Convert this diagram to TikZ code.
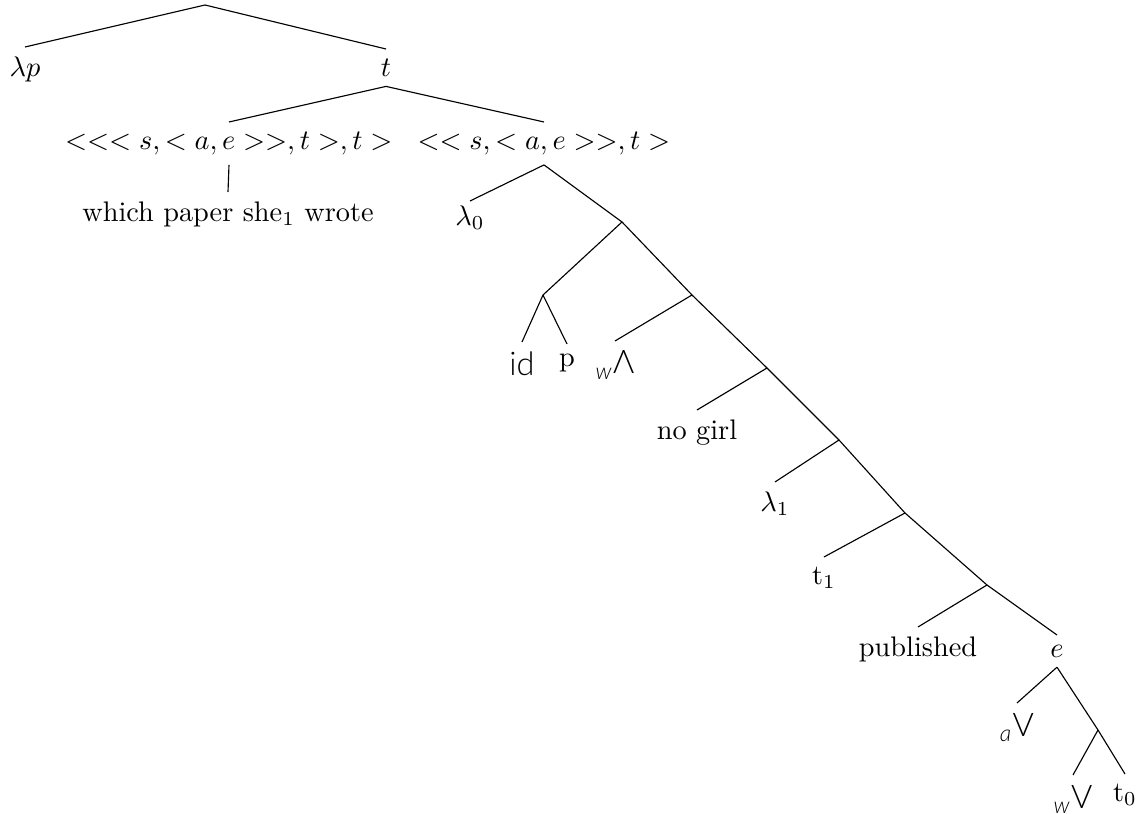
\documentclass[tikz,border=0pt]{standalone}
\usepackage{amsmath}
\usepackage{graphicx}
\usepackage{fontspec}
\newfontfamily\lightsf{Lato Light}
\newcommand{\mysub}[1]{\ensuremath{_{\text{\lightsf\itshape #1}}}}
\newcommand{\mywedge}{{\lightsf\rotatebox[origin=c]{180}{V}}}
\newcommand{\myvee}{{\lightsf V}}
\begin{document}
\begin{tikzpicture}[x=0.3533pt,y=-0.3533pt,
  lab/.style={anchor=north},
  sflab/.style={anchor=north,font=\fontsize{11.5}{14}\selectfont},
  edge/.style={draw=black,line width=0.4pt}]
\useasboundingbox (0,0) rectangle (1139,814);
% root
\coordinate (r) at (205,5);
\node[lab] (lp) at (25,47) {$\lambda p$};
\node[lab] (t) at (386,49) {$t$};
\node[lab] (L) at (229,122) {$<<<s,<a,e>>,t>,t>$};
\node[lab] (Rt) at (544,122) {$<<s,<a,e>>,t>$};
\node[lab] (wh) at (228,192) {which paper she$_1$ wrote};
\node[lab,inner sep=1.5pt] (l0) at (470,201) {$\lambda_0$};
\coordinate (j1) at (622,222);
\coordinate (jid) at (543,295);
\node[sflab] (id) at (522,342) {{\lightsf id}};
\node[lab] (p) at (567,344) {p};
\coordinate (j2) at (692,295);
\node[sflab] (wa) at (615,341) {\mysub{w}\mywedge};
\coordinate (j3) at (767,368);
\node[lab] (ng) at (697,410) {no girl};
\coordinate (j4) at (839,440);
\node[lab] (l1) at (775,482) {$\lambda_1$};
\coordinate (j5) at (905,513);
\node[lab] (t1) at (824,557) {t$_1$};
\coordinate (j6) at (987,585);
\node[lab] (pub) at (918,627) {published};
\node[lab] (e) at (1057,635) {$e$};
\node[sflab] (av) at (1017,703) {\mysub{a}\myvee};
\coordinate (j7) at (1098,730);
\node[sflab] (wv) at (1073,775) {\mysub{w}\myvee};
\node[lab] (t0) at (1125,774) {t$_0$};
% edges
\path[edge] (r) -- (lp.north);
\path[edge] (r) -- (t.north);
\path[edge] (t.south) -- (L.north);
\path[edge] (t.south) -- (Rt.north);
\path[edge] (L.south) -- (wh.north);
\path[edge] (Rt.south) -- (l0.north);
\path[edge] (Rt.south) -- (j1) -- (j2) -- (j3) -- (j4) -- (j5) -- (j6) -- (e.north);
\path[edge] (j1) -- (jid);
\path[edge] (jid) -- (id.north);
\path[edge] (jid) -- (p.north);
\path[edge] (j2) -- (wa.north);
\path[edge] (j3) -- (ng.north);
\path[edge] (j4) -- (l1.north);
\path[edge] (j5) -- (t1.north);
\path[edge] (j6) -- (pub.north);
\path[edge] (e.south) -- (av.north);
\path[edge] (e.south) -- (j7);
\path[edge] (j7) -- (wv.north);
\path[edge] (j7) -- (t0.north);
\end{tikzpicture}
\end{document}
